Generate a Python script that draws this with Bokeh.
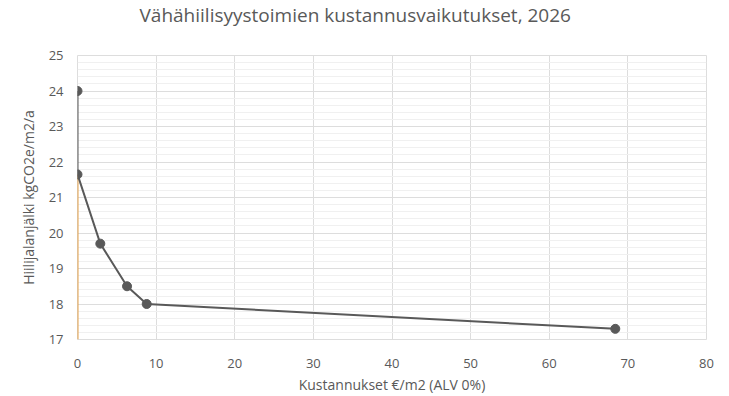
from bokeh.plotting import figure
from bokeh.models import SingleIntervalTicker, Range1d, Title
from bokeh.embed import file_html
from bokeh.resources import INLINE

# Data
cost = [0, 0, 2.9, 6.3, 8.8, 68.4]
footprint = [24.0, 21.65, 19.7, 18.5, 18.0, 17.3]
base_x = [0, 0]
base_y = [17, 21.65]

title_text = "Vähähiilisyystoimien kustannusvaikutukset, 2026"
x_label = "Kustannukset €/m2 (ALV 0%)"
y_label = "Hiilijalanjälki kgCO2e/m2/a"

FONT = "Open Sans"
GRAY = "#595959"

p = figure(width=729, height=396, output_backend="svg", toolbar_location=None,
           x_range=Range1d(0, 80), y_range=Range1d(17, 25),
           min_border_left=77, min_border_right=23, min_border_top=55, min_border_bottom=53)
p.title = None
p.add_layout(Title(text=" ", text_font=FONT, text_font_size="18px", standoff=0,
                   vertical_align="top"), "above")
p.add_layout(Title(text=title_text, align="left", offset=62, vertical_align="top",
                   text_font=FONT, text_font_size="19px", standoff=0,
                   text_color=GRAY, text_font_style="normal"), "above")

p.xaxis.ticker = SingleIntervalTicker(interval=10, num_minor_ticks=0)
p.yaxis.ticker = SingleIntervalTicker(interval=1, num_minor_ticks=5)

for ax in (p.xaxis[0], p.yaxis[0]):
    ax.axis_line_color = None
    ax.major_tick_line_color = None
    ax.minor_tick_line_color = None
    ax.major_label_text_font = FONT
    ax.major_label_text_font_size = "13px"
    ax.major_label_text_color = GRAY
    ax.axis_label_text_font = FONT
    ax.axis_label_text_font_size = "14px"
    ax.axis_label_text_color = GRAY
    ax.axis_label_text_font_style = "normal"

p.xaxis.axis_label = x_label
p.yaxis.axis_label = y_label
p.xaxis.major_label_standoff = 13
p.yaxis.major_label_standoff = 8
p.xaxis.axis_label_standoff = 4
p.yaxis.axis_label_standoff = 8

p.xgrid.grid_line_color = "#dddddd"
p.ygrid.grid_line_color = "#dddddd"
p.ygrid.minor_grid_line_color = "#f0f0f0"
p.outline_line_color = "#dddddd"
p.background_fill_color = "white"
p.border_fill_color = "white"

p.line(base_x, base_y, line_color="#E6A24A", line_width=2)
p.line(cost, footprint, line_color=GRAY, line_width=2)
p.scatter(cost, footprint, size=9, fill_color=GRAY, line_color=GRAY)

open("out.html", "w").write(file_html(p, INLINE))
